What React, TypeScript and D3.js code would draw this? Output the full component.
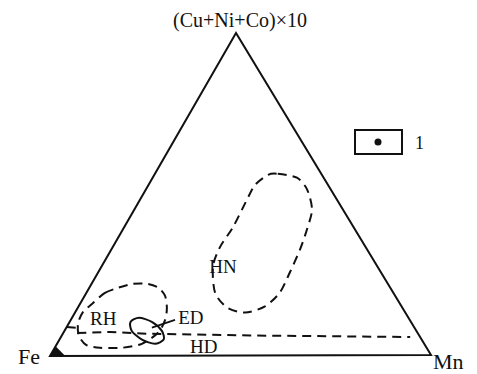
import React from "react";
import * as d3 from "d3";

// compositions in percent: [Cu+Ni+Co (x10), Fe, Mn]
type Comp = [number, number, number];

const hnField: Comp[] = [
  [56.0, 14.1, 29.9], [56.3, 11.4, 32.3], [55.1, 7.0, 37.9], [51.4, 6.2, 42.4],
  [45.2, 8.1, 46.7], [39.0, 12.6, 48.4], [32.8, 17.6, 49.6], [25.7, 23.9, 50.4],
  [19.5, 29.7, 50.8], [15.2, 35.8, 49.0], [13.3, 42.0, 44.7], [14.9, 45.9, 39.2],
  [19.5, 46.7, 33.8], [27.6, 43.1, 29.3], [33.7, 38.1, 28.2], [39.9, 31.5, 28.6],
  [48.3, 23.6, 28.1], [52.9, 19.1, 28.0],
];

const rhField: Comp[] = [
  [16.4, 80.3, 3.3], [19.5, 75.6, 4.9], [21.1, 71.3, 7.6], [22.3, 66.8, 10.9],
  [22.3, 63.1, 14.6], [21.1, 60.8, 18.1], [18.6, 60.3, 21.1], [14.9, 61.7, 23.4],
  [11.1, 64.1, 24.8], [7.1, 68.0, 24.9], [3.7, 74.0, 22.3], [2.5, 79.8, 17.7],
  [2.5, 85.6, 11.9], [3.4, 88.8, 7.8], [6.2, 89.2, 4.6], [9.9, 87.6, 2.5],
  [13.6, 84.4, 2.0],
];

const edField: Comp[] = [
  [5.0, 67.6, 27.4], [3.7, 70.6, 25.7], [5.0, 73.3, 21.7], [7.7, 74.6, 17.7],
  [10.5, 73.5, 16.0], [11.8, 70.6, 17.6], [10.5, 67.9, 21.6], [7.7, 66.7, 25.6],
];

const hdBoundary: Comp[] = [
  [9.0, 91.0, 0], [8.7, 88.4, 2.9], [7.1, 89.0, 3.9], [7.4, 80.5, 12.1],
  [6.8, 70.3, 22.9], [6.2, 44.3, 49.5], [5.6, 2.6, 91.8],
];

const edLeader: Comp[] = [[8.7, 68.8, 22.5], [11.1, 61.5, 27.4]];

const sampleCorner: Comp[] = [[0, 100, 0], [3, 97, 0], [0, 96, 4]];

const fieldLabels: { name: string; at: Comp }[] = [
  { name: "HN", at: [28.2, 49.6, 32.2] },
  { name: "RH", at: [9.6, 84.6, 5.8] },
  { name: "ED", at: [9.9, 61.3, 28.8] },
  { name: "HD", at: [0.9, 62.8, 36.3] },
];

const vertexNames = ["(Cu+Ni+Co)\u00d710", "Fe", "Mn"];
const legendLabel = "1";

const width = 477;
const height = 374;
const font = "'Liberation Serif', 'Times New Roman', serif";

// triangle corners (top, left, right)
const top = { x: 236, y: 33 };
const left = { x: 50, y: 356 };
const right = { x: 431, y: 355 };

const pct = d3.scaleLinear().domain([0, 100]).range([0, 1]);

const project = ([a, b, c]: Comp): [number, number] => {
  const s = pct(a + b + c);
  const ka = pct(a) / s, kb = pct(b) / s, kc = pct(c) / s;
  return [
    ka * top.x + kb * left.x + kc * right.x,
    ka * top.y + kb * left.y + kc * right.y,
  ];
};

const closedCurve = d3.line<Comp>()
  .x((d) => project(d)[0])
  .y((d) => project(d)[1])
  .curve(d3.curveCardinalClosed.tension(0.2));

const polyline = d3.line<Comp>()
  .x((d) => project(d)[0])
  .y((d) => project(d)[1]);

const frame: Comp[] = [[100, 0, 0], [0, 100, 0], [0, 0, 100]];

export default function App() {
  const dash = "9,6";
  return (
    <svg
      width={width}
      height={height}
      style={{ position: "absolute", left: 0, top: 0, background: "#fff" }}
      fontFamily={font}
    >
      <path d={polyline(frame) + "Z"} fill="none" stroke="#111" strokeWidth={2} strokeLinejoin="miter" />
      <path d={polyline(sampleCorner) + "Z"} fill="#111" stroke="none" />

      <path d={closedCurve(hnField) ?? ""} fill="none" stroke="#111" strokeWidth={2} strokeDasharray={dash} />
      <path d={closedCurve(rhField) ?? ""} fill="none" stroke="#111" strokeWidth={2} strokeDasharray={dash} />
      <path d={polyline(hdBoundary) ?? ""} fill="none" stroke="#111" strokeWidth={2} strokeDasharray={dash} />
      <path d={closedCurve(edField) ?? ""} fill="none" stroke="#111" strokeWidth={2} />
      <path d={polyline(edLeader) ?? ""} fill="none" stroke="#111" strokeWidth={1.8} />

      {fieldLabels.map((l) => {
        const [x, y] = project(l.at);
        return (
          <text key={l.name} x={x} y={y} fontSize={19} fill="#111">
            {l.name}
          </text>
        );
      })}

      <text x={top.x + 4} y={top.y - 6} fontSize={20} textAnchor="middle" fill="#111">
        {vertexNames[0]}
      </text>
      <text x={left.x - 10} y={left.y + 8} fontSize={22} textAnchor="end" fill="#111">
        {vertexNames[1]}
      </text>
      <text x={right.x + 2} y={right.y + 14} fontSize={22} fill="#111">
        {vertexNames[2]}
      </text>

      <g>
        <rect x={355} y={130} width={47} height={24} fill="none" stroke="#111" strokeWidth={2} />
        <circle cx={378} cy={142} r={3.5} fill="#111" />
        <text x={415} y={149} fontSize={18} fill="#111">{legendLabel}</text>
      </g>
    </svg>
  );
}
